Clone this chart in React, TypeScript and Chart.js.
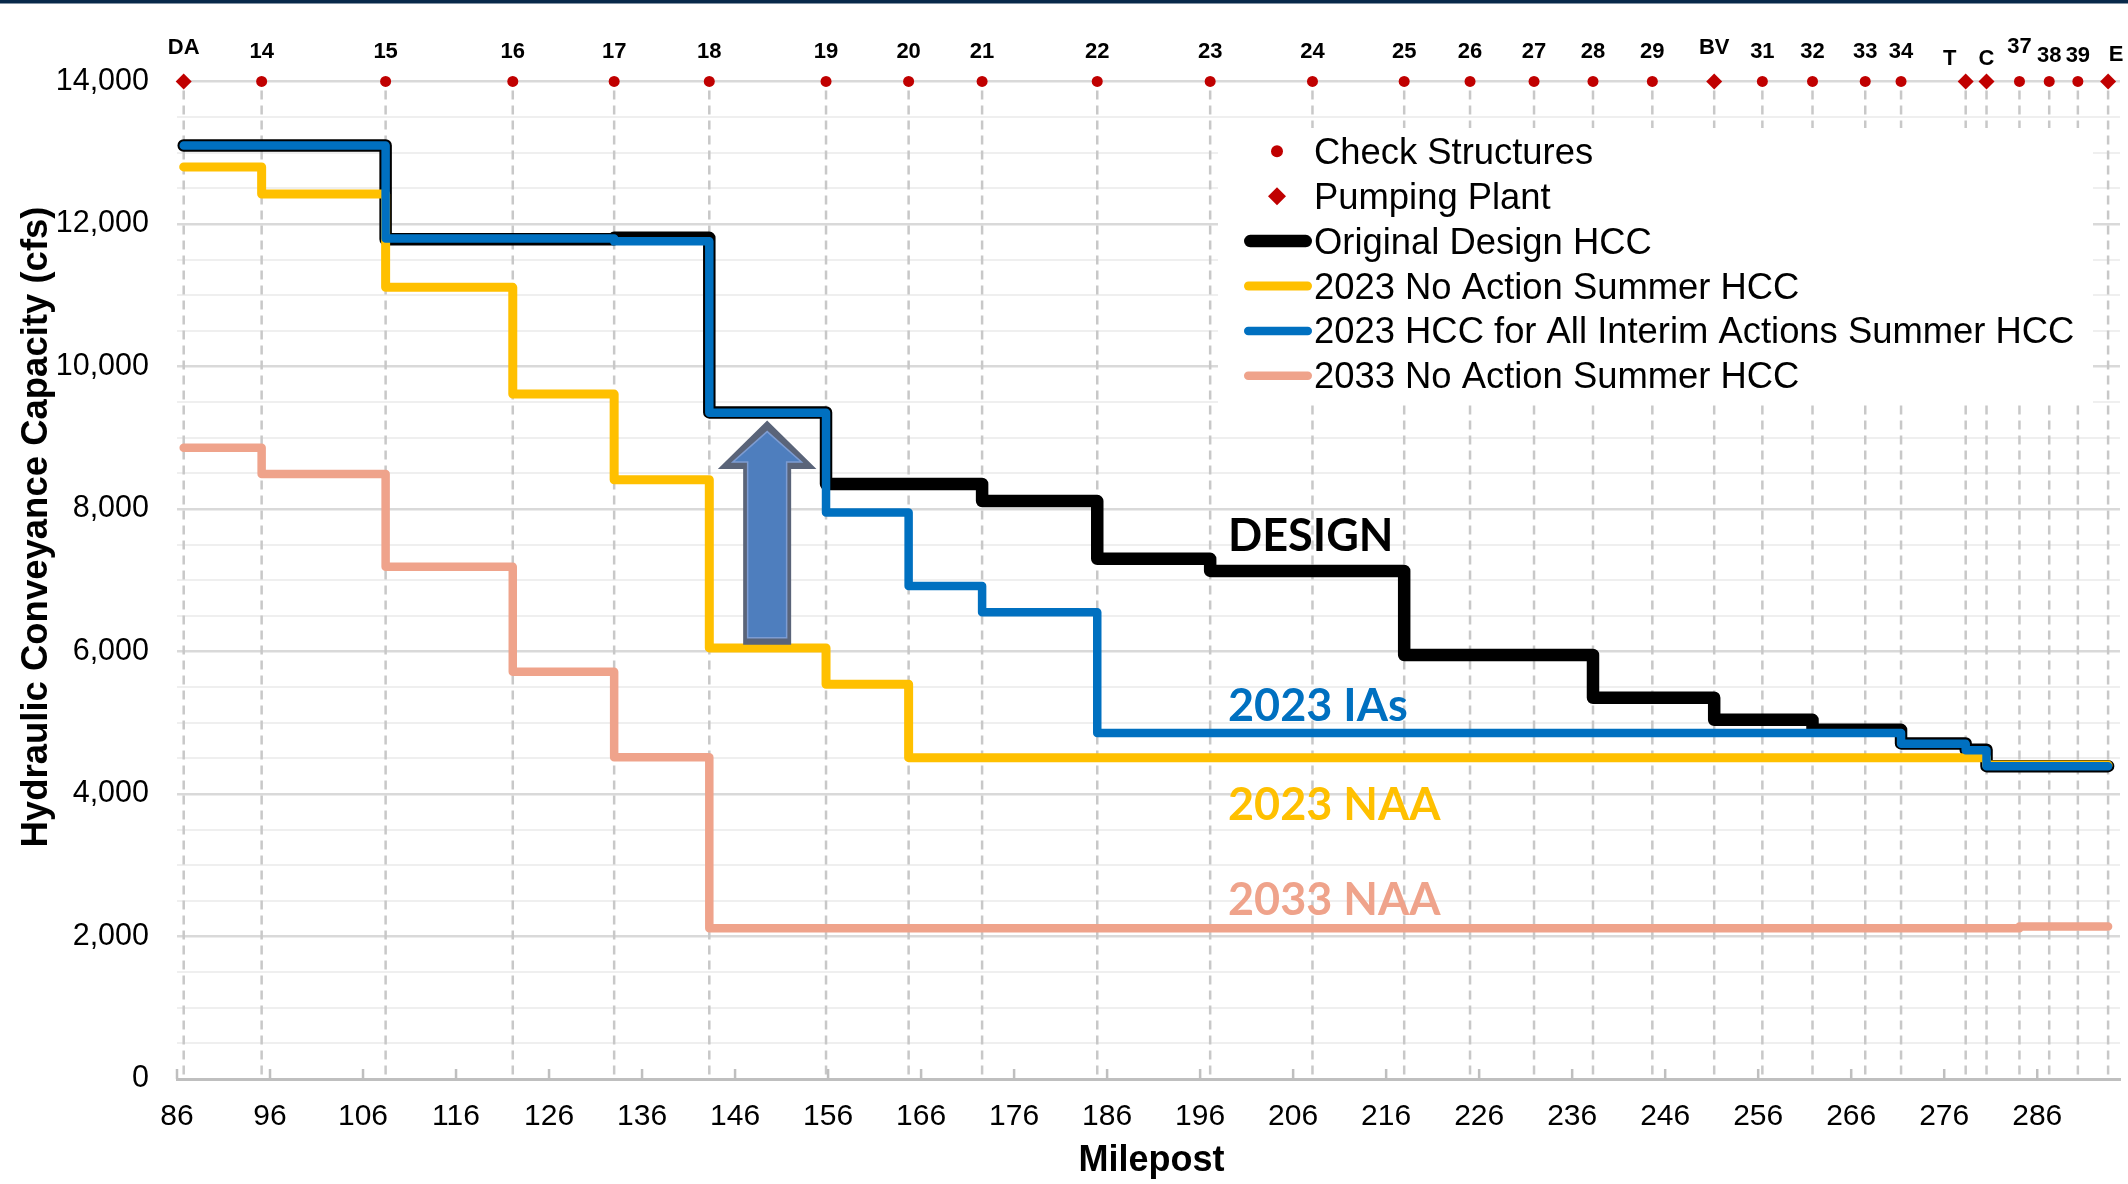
import React, { useEffect, useRef } from 'react';
import { Chart, registerables } from 'chart.js';

Chart.register(...registerables);

// ---------- data ----------
const STRUCTURE_LABELS = ['DA', '14', '15', '16', '17', '18', '19', '20', '21', '22', '23', '24', '25', '26', '27', '28', '29', 'BV', '31', '32', '33', '34', 'T', 'C', '37', '38', '39', 'E'];
const STRUCTURE_MILEPOSTS = [86.72, 95.1, 108.43, 122.1, 133.0, 143.23, 155.78, 164.66, 172.56, 184.94, 197.08, 208.08, 217.94, 225.02, 231.9, 238.24, 244.62, 251.27, 256.45, 261.84, 267.51, 271.36, 278.31, 280.55, 284.09, 287.29, 290.37, 293.62];
const PUMPING_PLANTS = ['DA', 'BV', 'T', 'C', 'E'];
const STRUCTURE_LEVEL = 14000;

const X_TICKS = [86, 96, 106, 116, 126, 136, 146, 156, 166, 176, 186, 196, 206, 216, 226, 236, 246, 256, 266, 276, 286];
const X_MIN = 86;
const X_MAX = 294.9;
const Y_MIN = 0;
const Y_MAX = 14000;
const Y_GRID_STEP = 500;
const Y_LABEL_STEP = 2000;

const DESIGN_MP = [86.72, 108.43, 133.0, 143.23, 155.78, 172.56, 184.94, 197.08, 217.94, 238.24, 251.27, 261.84, 271.36, 278.31, 280.55, 293.62];
const DESIGN_HCC = [13100, 11785, 11805, 9355, 8350, 8110, 7300, 7130, 5950, 5350, 5040, 4900, 4710, 4620, 4390, 4390];

const NAA2023_MP = [86.72, 95.1, 108.43, 122.1, 133.0, 143.23, 155.78, 164.66, 280.55, 293.62];
const NAA2023_HCC = [12800, 12420, 11110, 9612, 8410, 6050, 5540, 4510, 4405, 4405];

const IA2023_MP = [86.72, 108.43, 133.0, 143.23, 155.78, 164.66, 172.56, 184.94, 271.36, 278.31, 280.55, 293.62];
const IA2023_HCC = [13100, 11795, 11755, 9350, 7950, 6920, 6550, 4855, 4705, 4615, 4390, 4390];

const NAA2033_MP = [86.72, 95.1, 108.43, 122.1, 133.0, 143.23, 284.09, 293.62];
const NAA2033_HCC = [8860, 8490, 7190, 5714, 4514, 2115, 2140, 2140];

const SERIES_NAMES = [
  'Check Structures',
  'Pumping Plant',
  'Original Design HCC',
  '2023 No Action Summer HCC',
  '2023 HCC for All Interim Actions Summer HCC',
  '2033 No Action Summer HCC',
];

const LINE_TAGS = ['DESIGN', '2023 IAs', '2023 NAA', '2033 NAA'];
const LINE_TAG_MP = [199.0, 199.0, 199.0, 199.0];
const LINE_TAG_HCC = [7410, 5025, 3635, 2300];

const ARROW = { mp: 149.45, base: 6093, headBase: 8560, tip: 9240, headHalf: 5.3, shaftHalf: 2.58 };

const X_TITLE = 'Milepost';
const Y_TITLE = 'Hydraulic Conveyance Capacity (cfs)';

// ---------- styles ----------
const FONT = '"Liberation Sans", Arial, sans-serif';
const RED = '#C00000';
const BLACK = '#000000';
const GOLD = '#FFC000';
const BLUE = '#0070C0';
const SALMON = '#EFA38B';
const TAG_COLORS = [BLACK, BLUE, GOLD, SALMON];
const LABEL_NUDGE: Record<string, [number, number]> = {
  DA: [0, -4], BV: [0, -4], T: [-16, 7], C: [0, 7], '37': [0, -5], '38': [0, 4], '39': [0, 4], E: [8, 3],
};

const overlayPlugin = {
  id: 'overlay',
  beforeDraw(chart: any) {
    const { ctx, width, height } = chart;
    ctx.save();
    ctx.fillStyle = '#ffffff';
    ctx.fillRect(0, 0, width, height);
    ctx.fillStyle = '#08294A';
    ctx.fillRect(0, 0, width, 3.5);
    ctx.restore();
  },
  beforeDatasetsDraw(chart: any) {
    const { ctx, chartArea, scales } = chart;
    const xs = scales.x;
    ctx.save();
    ctx.strokeStyle = '#c8c8c8';
    ctx.lineWidth = 2.5;
    ctx.setLineDash([9, 6]);
    STRUCTURE_MILEPOSTS.forEach((m) => {
      const px = xs.getPixelForValue(m);
      ctx.beginPath();
      ctx.moveTo(px, chartArea.top + 9);
      ctx.lineTo(px, chartArea.bottom);
      ctx.stroke();
    });
    ctx.setLineDash([]);
    ctx.strokeStyle = '#bfbfbf';
    ctx.lineWidth = 2.5;
    X_TICKS.forEach((v) => {
      const px = xs.getPixelForValue(v);
      ctx.beginPath();
      ctx.moveTo(px, chartArea.bottom);
      ctx.lineTo(px, chartArea.bottom - 10);
      ctx.stroke();
    });
    ctx.restore();
  },
  afterDatasetsDraw(chart: any) {
    const { ctx, chartArea, scales } = chart;
    const xs = scales.x;
    const ys = scales.y;
    ctx.save();

    // ----- arrow -----
    const unit = xs.getPixelForValue(X_MIN + 1) - xs.getPixelForValue(X_MIN);
    const ax = xs.getPixelForValue(ARROW.mp);
    const aBase = ys.getPixelForValue(ARROW.base);
    const aHead = ys.getPixelForValue(ARROW.headBase);
    const aTip = ys.getPixelForValue(ARROW.tip);
    const hh = ARROW.headHalf * unit;
    const sh = ARROW.shaftHalf * unit;
    const arrowPath = (s: number, hw: number, base: number, head: number, tip: number) => {
      ctx.beginPath();
      ctx.moveTo(ax - s, base);
      ctx.lineTo(ax - s, head);
      ctx.lineTo(ax - hw, head);
      ctx.lineTo(ax, tip);
      ctx.lineTo(ax + hw, head);
      ctx.lineTo(ax + s, head);
      ctx.lineTo(ax + s, base);
      ctx.closePath();
    };
    arrowPath(sh, hh, aBase, aHead, aTip);
    ctx.fillStyle = '#5A6479';
    ctx.fill();
    arrowPath(sh - 4.5, hh - 15, aBase - 7, aHead - 7, aTip + 11);
    ctx.fillStyle = '#4E7EBE';
    ctx.fill();
    ctx.strokeStyle = '#7D9CD2';
    ctx.lineWidth = 1.5;
    ctx.stroke();

    // ----- line tags -----
    ctx.font = 'bold 45px Lato, "Liberation Sans", sans-serif';
    ctx.textAlign = 'left';
    ctx.textBaseline = 'alphabetic';
    LINE_TAGS.forEach((t, i) => {
      ctx.fillStyle = TAG_COLORS[i];
      ctx.fillText(t, xs.getPixelForValue(LINE_TAG_MP[i]), ys.getPixelForValue(LINE_TAG_HCC[i]));
    });

    // ----- structure labels -----
    ctx.font = `bold 22px ${FONT}`;
    ctx.fillStyle = '#000';
    ctx.textAlign = 'center';
    ctx.textBaseline = 'alphabetic';
    STRUCTURE_LABELS.forEach((l, i) => {
      const n = LABEL_NUDGE[l] || [0, 0];
      ctx.fillText(l, xs.getPixelForValue(STRUCTURE_MILEPOSTS[i]) + n[0], ys.getPixelForValue(STRUCTURE_LEVEL) - 23 + n[1]);
    });

    // ----- legend -----
    const L = { left: 1218, top: 128, right: 2093, bottom: 403, sym0: 1244, sym1: 1312, mark: 1277, text: 1314, row0: 163.8, step: 44.9, capHalf: 12.5 };
    ctx.fillStyle = '#ffffff';
    ctx.fillRect(L.left, L.top, L.right - L.left, L.bottom - L.top);
    chart.data.datasets.forEach((ds: any, i: number) => {
      const base = L.row0 + i * L.step;
      const mid = base - L.capHalf;
      if (i < 2) {
        ctx.fillStyle = ds.backgroundColor;
        ctx.beginPath();
        if (ds.pointStyle === 'circle') {
          ctx.arc(L.mark, mid, 6, 0, Math.PI * 2);
        } else {
          ctx.moveTo(L.mark - 9, mid);
          ctx.lineTo(L.mark, mid - 9);
          ctx.lineTo(L.mark + 9, mid);
          ctx.lineTo(L.mark, mid + 9);
          ctx.closePath();
        }
        ctx.fill();
      } else {
        ctx.strokeStyle = ds.borderColor;
        ctx.lineWidth = ds.borderWidth;
        ctx.lineCap = 'round';
        ctx.beginPath();
        ctx.moveTo(L.sym0 + ds.borderWidth / 2, mid);
        ctx.lineTo(L.sym1 - ds.borderWidth / 2, mid);
        ctx.stroke();
      }
      ctx.fillStyle = '#000';
      ctx.font = `36.4px ${FONT}`;
      ctx.textAlign = 'left';
      ctx.textBaseline = 'alphabetic';
      ctx.fillText(ds.label, L.text, base);
    });

    // ----- axis titles -----
    ctx.fillStyle = '#000';
    ctx.font = `bold 36px ${FONT}`;
    ctx.textAlign = 'center';
    ctx.textBaseline = 'alphabetic';
    ctx.fillText(X_TITLE, (chartArea.left + chartArea.right) / 2 + 3, 1171);
    ctx.save();
    ctx.translate(46.7, 527);
    ctx.rotate(-Math.PI / 2);
    ctx.font = `bold 36.5px ${FONT}`;
    ctx.fillText(Y_TITLE, 0, 0);
    ctx.restore();

    ctx.restore();
  },
};

export default function App() {
  const ref = useRef<HTMLCanvasElement>(null);
  useEffect(() => {
    const canvas = ref.current;
    if (!canvas) return;
    const xy = (xs: number[], ys: number[]) => xs.map((x, i) => ({ x, y: ys[i] }));
    const checkPts: any[] = [];
    const pumpPts: any[] = [];
    STRUCTURE_LABELS.forEach((l, i) => {
      const p = { x: STRUCTURE_MILEPOSTS[i], y: STRUCTURE_LEVEL };
      (PUMPING_PLANTS.includes(l) ? pumpPts : checkPts).push(p);
    });
    const lineDs = (label: string, data: any[], color: string, width: number, order: number) => ({
      label,
      data,
      showLine: true,
      stepped: 'before',
      borderColor: color,
      backgroundColor: color,
      borderWidth: width,
      borderCapStyle: 'round',
      borderJoinStyle: 'round',
      pointRadius: 0,
      pointHoverRadius: 0,
      tension: 0,
      fill: false,
      order,
    });
    const chart = new Chart(canvas, {
      type: 'scatter',
      data: {
        datasets: [
          { label: SERIES_NAMES[0], data: checkPts, pointStyle: 'circle', pointRadius: 5.5, backgroundColor: RED, borderColor: RED, borderWidth: 0, showLine: false, clip: false, order: 0 } as any,
          { label: SERIES_NAMES[1], data: pumpPts, pointStyle: 'rectRot', pointRadius: 8, backgroundColor: RED, borderColor: RED, borderWidth: 0, showLine: false, clip: false, order: 0 } as any,
          lineDs(SERIES_NAMES[2], xy(DESIGN_MP, DESIGN_HCC), BLACK, 12.5, 3),
          lineDs(SERIES_NAMES[3], xy(NAA2023_MP, NAA2023_HCC), GOLD, 9, 2),
          lineDs(SERIES_NAMES[4], xy(IA2023_MP, IA2023_HCC), BLUE, 8.5, 1),
          lineDs(SERIES_NAMES[5], xy(NAA2033_MP, NAA2033_HCC), SALMON, 8.5, 4),
        ],
      },
      options: {
        responsive: false,
        animation: false,
        events: [],
        layout: { padding: { top: 81.4, right: 6, bottom: 0, left: 0 } },
        plugins: { legend: { display: false }, tooltip: { enabled: false }, title: { display: false } },
        scales: {
          x: {
            type: 'linear',
            position: 'bottom',
            min: X_MIN,
            max: X_MAX,
            afterBuildTicks: (s: any) => { s.ticks = X_TICKS.map((v) => ({ value: v })); },
            afterFit: (s: any) => { s.height = 105; },
            grid: { display: false, drawTicks: false },
            border: { display: true, color: '#bfbfbf', width: 3 },
            ticks: { autoSkip: false, maxRotation: 0, minRotation: 0, padding: 20, color: '#000', font: { family: FONT, size: 30 }, callback: (v: any) => String(v) },
          },
          y: {
            type: 'linear',
            min: Y_MIN,
            max: Y_MAX,
            afterFit: (s: any) => { s.width = 177; },
            grid: {
              drawTicks: false,
              color: (c: any) => (c.tick && c.tick.value % Y_LABEL_STEP === 0 ? '#d9d9d9' : '#efefef'),
              lineWidth: (c: any) => (c.tick && c.tick.value % Y_LABEL_STEP === 0 ? 2.5 : 2),
            },
            border: { display: false },
            ticks: {
              stepSize: Y_GRID_STEP,
              autoSkip: false,
              padding: 28,
              color: '#000',
              font: { family: FONT, size: 30.5 },
              callback: (v: any) => (Number(v) % Y_LABEL_STEP === 0 ? Number(v).toLocaleString('en-US') : ''),
            },
          },
        },
      } as any,
      plugins: [overlayPlugin],
    });
    return () => chart.destroy();
  }, []);
  return (
    <div style={{ position: 'fixed', left: 0, top: 0, width: 2128, height: 1184, background: '#fff' }}>
      <canvas ref={ref} width={2128} height={1184} style={{ width: 2128, height: 1184, display: 'block' }} />
    </div>
  );
}
